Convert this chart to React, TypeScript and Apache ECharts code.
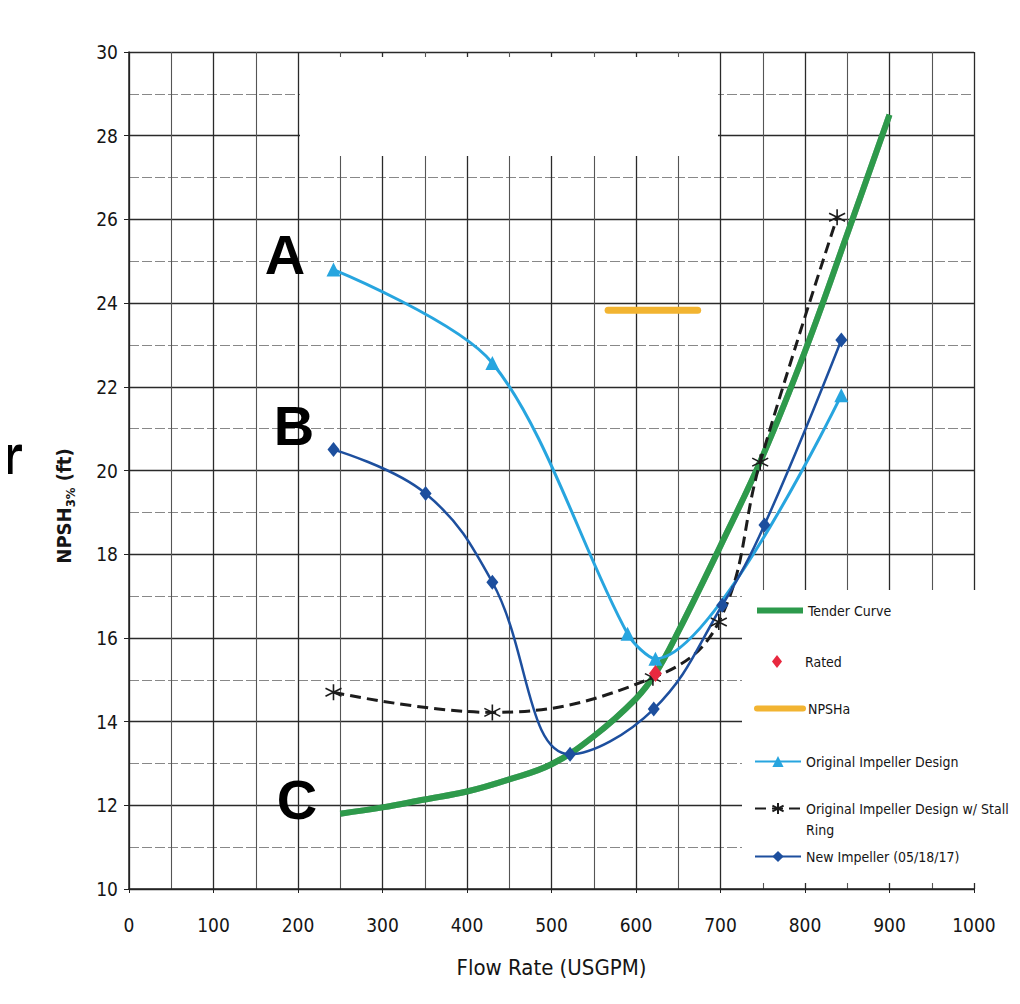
import React, { useEffect, useRef } from "react";
import * as echarts from "echarts";

// ---- data ----
const tenderX = [250, 300, 350, 400, 450, 500, 550, 600, 623, 650, 700, 750, 800, 850, 900];
const tenderY = [11.8, 11.95, 12.14, 12.33, 12.62, 12.98, 13.65, 14.55, 15.15, 16.15, 18.2, 20.35, 22.85, 25.65, 28.5];

const ratedX = [623];
const ratedY = [15.15];

const npshaX = [567, 673];
const npshaY = [23.83, 23.83];

const origX = [242, 430, 590, 623, 843];
const origY = [24.8, 22.57, 16.1, 15.5, 21.8];

const stallX = [242, 430, 620, 698, 747, 838];
const stallY = [14.7, 14.22, 15.05, 16.38, 20.2, 26.05];

const newX = [242, 351, 430, 522, 621, 702, 752, 843];
const newY = [20.5, 19.45, 17.33, 13.22, 14.3, 16.78, 18.7, 23.12];

const seriesNames = [
  "Tender Curve",
  "Rated",
  "NPSHa",
  "Original Impeller Design",
  "Original Impeller Design w/ Stall Ring",
  "New Impeller (05/18/17)",
];

const xTicks = { min: 0, max: 1000, interval: 100 };
const yTicks = { min: 10, max: 30, interval: 2 };

const zip = (xs: number[], ys: number[]) => xs.map((x, i) => [x, ys[i]]);

const FONT = "'Liberation Sans Narrow', 'Arial Narrow', 'DejaVu Sans Condensed', sans-serif";
const ASTERISK = "path://M10,0L10,20M1.34,5L18.66,15M1.34,15L18.66,5";

export default function App() {
  const ref = useRef<HTMLDivElement>(null);

  useEffect(() => {
    if (!ref.current) return;
    const chart = echarts.init(ref.current, undefined, { renderer: "svg" });

    const legendCenters = [607, 658, 705, 758, 808, 853];
    const legendText = {
      fontFamily: FONT,
      fontSize: 14,
      color: "#151515",
      lineHeight: 21,
    };
    const legends = seriesNames.map((n, i) => {
      const base: any = {
        data: [n],
        left: 754,
        top: legendCenters[i] - 7,
        orient: "vertical",
        itemWidth: 46,
        itemHeight: 14,
        padding: 0,
        selectedMode: false,
        textStyle: { ...legendText },
      };
      if (i === 0 || i === 2) {
        base.itemStyle = { opacity: 0 };
        base.lineStyle = { width: 6 };
      }
      if (i === 1) {
        base.left = 772;
        base.itemWidth = 10;
        base.itemHeight = 13;
        base.textStyle = { ...legendText, padding: [0, 0, 0, 18] };
      }
      if (i === 4) {
        base.top = legendCenters[i] - 7 - 24;
        base.formatter = () => "\nOriginal Impeller Design w/ Stall\nRing";
      }
      return base;
    });

    chart.setOption({
      animation: false,
      backgroundColor: "#ffffff",
      textStyle: { fontFamily: FONT },
      grid: { left: 129, right: 46, top: 52, bottom: 115, containLabel: false },
      xAxis: {
        type: "value",
        min: xTicks.min,
        max: xTicks.max,
        interval: xTicks.interval,
        name: "Flow Rate (USGPM)",
        nameLocation: "middle",
        nameGap: 67,
        nameTextStyle: { fontFamily: FONT, fontSize: 22, color: "#151515" },
        axisLine: { show: true, lineStyle: { color: "#222", width: 1.5 } },
        axisTick: { show: true, length: 4, lineStyle: { color: "#222" } },
        axisLabel: {
          fontFamily: FONT,
          fontSize: 19,
          color: "#151515",
          margin: 26,
          formatter: (v: number) => String(v),
        },
        splitLine: { show: true, lineStyle: { color: "#2a2a2a", width: 1.3 } },
        minorTick: { show: false, splitNumber: 2 },
        minorSplitLine: { show: true, lineStyle: { color: "#555", width: 1.1 } },
      },
      yAxis: {
        type: "value",
        min: yTicks.min,
        max: yTicks.max,
        interval: yTicks.interval,
        axisLine: { show: true, lineStyle: { color: "#222", width: 1.5 } },
        axisTick: { show: true, length: 5, lineStyle: { color: "#222" } },
        axisLabel: {
          fontFamily: FONT,
          fontSize: 19,
          color: "#151515",
          margin: 11,
          formatter: (v: number) => String(v),
        },
        splitLine: { show: true, lineStyle: { color: "#2a2a2a", width: 1.3 } },
        minorTick: { show: false, splitNumber: 2 },
        minorSplitLine: { show: true, lineStyle: { color: "#888", width: 1, type: [10, 3] } },
      },
      legend: legends,
      graphic: [
        {
          type: "rect",
          z: 1,
          shape: { x: 300, y: 57, width: 418, height: 99 },
          style: { fill: "#ffffff" },
        },
        {
          type: "rect",
          z: 1,
          shape: { x: 742, y: 590, width: 270, height: 293 },
          style: { fill: "#ffffff" },
        },
        {
          type: "text",
          z: 10,
          x: 64,
          y: 506,
          rotation: Math.PI / 2,
          style: {
            text: "{a|NPSH}{b|3%}{a| (ft)}",
            align: "center",
            verticalAlign: "middle",
            rich: {
              a: { fontFamily: FONT, fontSize: 20, fontWeight: "bold", fill: "#151515", lineHeight: 26 },
              b: { fontFamily: FONT, fontSize: 13, fontWeight: "bold", fill: "#151515", lineHeight: 26, verticalAlign: "bottom" },
            },
          },
        },
        ...[
          { t: "A", x: 285, y: 254 },
          { t: "B", x: 294, y: 425 },
          { t: "C", x: 297, y: 799 },
          { t: "r", x: 12, y: 454 },
        ].map((l) => ({
          type: "text",
          z: 10,
          x: l.x,
          y: l.y,
          style: {
            text: l.t,
            align: "center",
            verticalAlign: "middle",
            fontFamily: "'Liberation Sans', Arial, sans-serif",
            fontWeight: "bold",
            fontSize: 56,
            fill: "#000",
          },
        })),
      ],
      series: [
        {
          name: seriesNames[0],
          type: "line",
          z: 2,
          smooth: 0.4,
          showSymbol: false,
          symbol: "none",
          data: zip(tenderX, tenderY),
          lineStyle: { color: "#2d9a4c", width: 6, shadowColor: "rgba(20,80,40,0.5)", shadowBlur: 1 },
          itemStyle: { color: "#2d9a4c" },
        },
        {
          name: seriesNames[1],
          type: "scatter",
          z: 6,
          symbol: "diamond",
          symbolSize: [13, 17],
          data: zip(ratedX, ratedY),
          itemStyle: { color: "#e8283f", opacity: 1 },
        },
        {
          name: seriesNames[2],
          type: "line",
          z: 3,
          symbol: "none",
          showSymbol: false,
          data: zip(npshaX, npshaY),
          lineStyle: { color: "#f2b431", width: 7, cap: "round" },
          itemStyle: { color: "#f2b431" },
        },
        {
          name: seriesNames[3],
          type: "line",
          z: 4,
          smooth: 0.3,
          symbol: "triangle",
          symbolSize: 14,
          data: zip(origX, origY),
          lineStyle: { color: "#27a5df", width: 3 },
          itemStyle: { color: "#27a5df" },
        },
        {
          name: seriesNames[4],
          type: "line",
          z: 4,
          smooth: 0.4,
          symbol: ASTERISK,
          symbolSize: 16,
          data: zip(stallX, stallY),
          lineStyle: { color: "#1c1c1c", width: 3, type: [11, 6] },
          itemStyle: { color: "#1c1c1c", borderColor: "#1c1c1c", borderWidth: 1.6 },
        },
        {
          name: seriesNames[5],
          type: "line",
          z: 4,
          smooth: 0.4,
          symbol: "diamond",
          symbolSize: [12, 15],
          data: zip(newX, newY),
          lineStyle: { color: "#1d4f9e", width: 2.5 },
          itemStyle: { color: "#1d4f9e" },
        },
      ],
    });

    return () => chart.dispose();
  }, []);

  return <div ref={ref} style={{ width: 1020, height: 1004, margin: -8 }} />;
}
